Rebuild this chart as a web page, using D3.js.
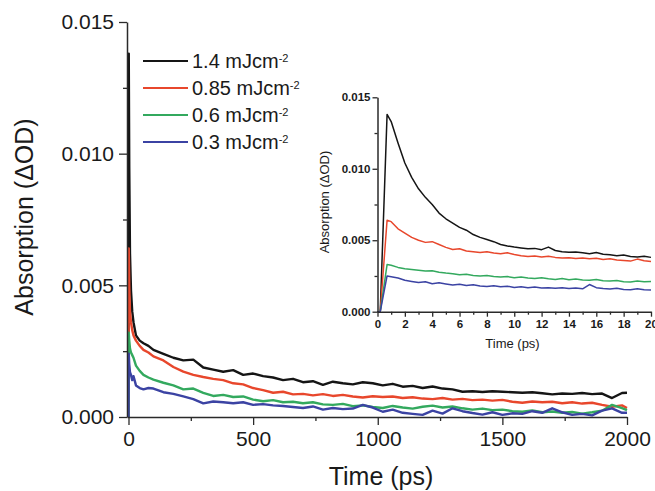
<!DOCTYPE html>
<html>
<head>
<meta charset="utf-8">
<script src="https://cdn.jsdelivr.net/npm/d3@7"></script>
<style>
  body { margin: 0; background: #fff; }
  svg { display: block; font-family: "Liberation Sans", Arial, Helvetica, sans-serif; }
</style>
</head>
<body>
<svg id="chart" width="655" height="491"></svg>
<script>
/// data (absorption values in units of 1e-4 ΔOD) ///
const UNIT = 1e-4;

const fluences = ["1.4", "0.85", "0.6", "0.3"];
const colours = ["#151515", "#e8472c", "#33a95e", "#3b43a3"];

// long time window (ps)
const timeMain = [0, 1, 3, 6, 10, 15, 20, 30, 45, 60, 80, 100,
  140, 180, 220, 260, 300, 340, 380, 420, 460, 500, 540, 580, 620, 660, 700, 740, 780, 820, 860, 900,
  940, 980, 1020, 1060, 1100, 1140, 1180, 1220, 1260, 1300, 1340, 1380, 1420, 1460, 1500, 1540, 1580,
  1620, 1660, 1700, 1740, 1780, 1820, 1860, 1900, 1940, 1980, 2000];

const main14 = [0, 138, 95, 62, 48, 40, 36, 31, 29, 28, 27, 25.5,
  24, 22.5, 21.5, 21.8, 18.8, 18, 17.2, 17.8, 16, 16.5, 15.5, 15, 14, 14.5, 13.2, 13.6, 12.2, 13.4, 12.8, 12.4,
  13.2, 12.8, 12, 12.6, 11.5, 11.8, 11, 11.6, 10.8, 10.5, 9.6, 9.8, 9.5, 9.8, 9.6, 9.4, 9.2,
  9.4, 9, 8.6, 8.9, 8.8, 9.1, 8.7, 8.9, 7.2, 9.1, 9.2];
const main085 = [0, 64, 50, 40, 36, 33, 31, 29, 27, 25.5, 24.5, 23,
  21.5, 19, 17.2, 16, 15.2, 14.5, 14, 12.8, 12.4, 11, 10.2, 9.2, 9.6, 8.6, 8.8, 8.2, 8.7, 8, 8.4, 7.8,
  7.4, 7.9, 7.6, 7.8, 7.2, 7.5, 7, 6.8, 7.2, 6.6, 6.9, 6.4, 6.6, 6.2, 6.5, 5.8, 5.4,
  5.9, 5.6, 5.8, 5.2, 5.6, 5.1, 5.4, 4.6, 3.9, 4.4, 3.4];
const main06 = [0, 32, 29, 26, 24.5, 23.5, 22.5, 19.5, 17.5, 16, 15, 14.2,
  13, 12, 10.5, 10.8, 9.2, 8, 8.4, 7.6, 7.8, 6.6, 6, 6.4, 5.6, 5.8, 5.2, 5.6, 4.8, 4.6, 5, 4.1,
  4.4, 3.8, 3.4, 4.2, 3.6, 3.2, 3.9, 4.3, 3.6, 4, 3.3, 2.8, 3.2, 2.6, 2.8, 2.2, 2,
  2.5, 1.8, 2.1, 1.6, 1.9, 1.3, 1.8, 2.4, 4.6, 3.4, 2.6];
const main03 = [0, 24, 20, 17, 16, 14, 15.5, 12, 11, 10.5, 11, 10.8,
  9.4, 8.8, 7.8, 6.8, 5.2, 5.9, 5.6, 5.2, 5.6, 4.6, 4.9, 4.4, 4.2, 3.8, 3.4, 4, 2.8, 3.4, 3, 3.2,
  4.6, 3.6, 2, 2.8, 1.6, 1.2, 0.8, 2.4, 1.3, 3.3, 2.2, 1.5, 0.9, 1.8, 0.8, 1.4, 1.2,
  2.2, 1.6, 3.3, 1.8, 0.8, 1.2, 0.6, 2.4, 3.3, 1.6, 1.6];

// short time window (ps), inset
const timeInset = [0, 0.2, 0.7, 1, 1.5, 2, 2.5, 3, 3.5, 4, 4.5, 5, 5.5, 6, 6.5, 7, 7.5, 8, 8.5, 9, 9.5, 10,
  10.5, 11, 11.5, 12, 12.5, 13, 13.5, 14, 14.5, 15, 15.5, 16, 16.5, 17, 17.5, 18, 18.5, 19, 19.5, 20];

const inset14 = [0, 0, 138, 133, 118, 104, 94, 86, 80, 75, 69, 65, 62, 59, 57, 54, 52, 50.5, 49, 47, 46, 45.2,
  44.6, 44, 44.3, 43.4, 45.2, 42.8, 42, 41.6, 41.8, 41.2, 40.6, 41.4, 40.2, 39.8, 39.2, 39.6, 38.6, 38.2, 38.8, 38];
const inset085 = [0, 0, 64, 63, 58, 55, 52, 50, 48.5, 49, 47, 45, 43.5, 44, 42.5, 42, 41.5, 42, 41, 40.5, 41.2, 40,
  39.2, 38.6, 39, 38.2, 38.8, 38, 37.6, 37.8, 37.2, 37.5, 37, 37.4, 36.6, 37, 36.2, 35.8, 35.4, 36.8, 35.6, 35.2];
const inset06 = [0, 0, 33, 32.5, 31, 30, 29.5, 29, 28.5, 28.6, 27.6, 27, 26.6, 25.8, 26.2, 25.4, 25, 25.3, 24.6, 24.2, 24.6, 23.8,
  24.2, 23.6, 23.2, 23.8, 23, 22.6, 23.2, 22.4, 22.8, 22.2, 22, 22.6, 21.6, 21.4, 21.8, 21, 20.8, 21.4, 21, 21.2];
const inset03 = [0, 0, 25, 24.5, 23.6, 22, 21.2, 20.5, 21, 19.6, 20.2, 19.4, 18.6, 19.2, 18.4, 18.8, 18, 17.6, 18.2, 17.4, 17.8, 17,
  17.4, 16.8, 17.2, 16.6, 16.8, 16.4, 16.8, 16.2, 16.6, 16, 19, 16.8, 16.2, 15.8, 16.4, 15.6, 15.4, 16, 15.4, 15.2];

// ticks
const mainXTicks = [0, 500, 1000, 1500, 2000];
const mainXMinor = [250, 750, 1250, 1750];
const yTicks = [0, 0.005, 0.010, 0.015];
const yMinor = [0.0025, 0.0075, 0.0125];
const insetXTicks = [0, 2, 4, 6, 8, 10, 12, 14, 16, 18, 20];
const insetXMinor = [1, 3, 5, 7, 9, 11, 13, 15, 17, 19];

const mainSeries = [main14, main085, main06, main03];
const insetSeries = [inset14, inset085, inset06, inset03];

/// drawing ///
const svg = d3.select("#chart");
const axisColour = "#2a2a2a";

function styleAxis(g, fontSize, weight) {
  g.select(".domain").attr("stroke", axisColour).attr("stroke-width", 1.5);
  g.selectAll(".tick line").attr("stroke", axisColour).attr("stroke-width", 1.3);
  g.selectAll(".tick text")
    .attr("fill", "#1a1a1a")
    .attr("font-family", "'Liberation Sans', Arial, sans-serif")
    .attr("font-size", fontSize)
    .attr("font-weight", weight);
}

function drawPanel(opts) {
  const x = d3.scaleLinear().domain(opts.xDomain).range(opts.xRange);
  const y = d3.scaleLinear().domain([0, 0.015]).range(opts.yRange);
  const g = svg.append("g");

  // minor ticks first
  g.append("g")
    .attr("transform", `translate(0,${opts.yRange[0]})`)
    .call(d3.axisBottom(x).tickValues(opts.xMinor).tickSize(opts.minor).tickSizeOuter(0).tickFormat(""))
    .call(a => { styleAxis(a, 0, "normal"); a.select(".domain").remove(); });
  g.append("g")
    .attr("transform", `translate(${opts.xRange[0]},0)`)
    .call(d3.axisLeft(y).tickValues(yMinor).tickSize(opts.minor).tickSizeOuter(0).tickFormat(""))
    .call(a => { styleAxis(a, 0, "normal"); a.select(".domain").remove(); });

  // data lines
  const line = d3.line().x(d => x(d[0])).y(d => y(d[1] * UNIT));
  opts.series.forEach((vals, i) => {
    const pts = opts.times.map((t, k) => [t, vals[k]]);
    g.append("path")
      .datum(pts)
      .attr("d", line)
      .attr("fill", "none")
      .attr("stroke", colours[i])
      .attr("stroke-width", opts.lineWidth)
      .attr("stroke-linejoin", "round");
  });

  // major axes
  g.append("g")
    .attr("transform", `translate(0,${opts.yRange[0]})`)
    .call(d3.axisBottom(x).tickValues(opts.xTicks).tickSize(opts.major).tickSizeOuter(0)
      .tickPadding(opts.xPad).tickFormat(d3.format("d")))
    .call(a => styleAxis(a, opts.tickFont, opts.tickWeight));
  g.append("g")
    .attr("transform", `translate(${opts.xRange[0]},0)`)
    .call(d3.axisLeft(y).tickValues(yTicks).tickSize(opts.major).tickSizeOuter(0)
      .tickPadding(opts.yPad).tickFormat(d3.format(".3f")))
    .call(a => styleAxis(a, opts.tickFont, opts.tickWeight));

  // titles
  g.append("text")
    .attr("x", opts.xTitle[0]).attr("y", opts.xTitle[1])
    .attr("text-anchor", "middle")
    .attr("font-size", opts.titleFont)
    .attr("fill", "#1a1a1a")
    .text("Time (ps)");
  g.append("text")
    .attr("transform", `translate(${opts.yTitle[0]},${opts.yTitle[1]}) rotate(-90)`)
    .attr("text-anchor", "middle")
    .attr("font-size", opts.titleFont)
    .attr("fill", "#1a1a1a")
    .text("Absorption (\u0394OD)");
}

// main panel
drawPanel({
  xDomain: [-6, 2000], xRange: [127, 627], yRange: [417, 22],
  times: timeMain, series: mainSeries,
  xTicks: mainXTicks, xMinor: mainXMinor,
  major: 8, minor: 4, xPad: 6, yPad: 5,
  tickFont: 21, tickWeight: "normal", titleFont: 25, lineWidth: 2.4,
  xTitle: [381, 485], yTitle: [33, 217]
});

// inset panel
drawPanel({
  xDomain: [0, 20], xRange: [377.5, 651], yRange: [311.7, 97.3],
  times: timeInset, series: insetSeries,
  xTicks: insetXTicks, xMinor: insetXMinor,
  major: 5, minor: 3, xPad: 3, yPad: 2,
  tickFont: 11.5, tickWeight: "bold", titleFont: 13, lineWidth: 1.5,
  xTitle: [512.5, 348], yTitle: [329, 202]
});

// legend
const legend = svg.append("g").attr("transform", "translate(143,0)");
fluences.forEach((f, i) => {
  const yBase = 68 + i * 27;
  legend.append("line")
    .attr("x1", 0).attr("x2", 45)
    .attr("y1", yBase - 7).attr("y2", yBase - 7)
    .attr("stroke", colours[i]).attr("stroke-width", 2.2);
  const t = legend.append("text")
    .attr("x", 49).attr("y", yBase)
    .attr("font-size", 20)
    .attr("fill", "#1a1a1a");
  t.append("tspan").text(`${f} mJcm`);
  t.append("tspan").attr("font-size", 11).attr("dy", -6).text("-2");
});
</script>
</body>
</html>
